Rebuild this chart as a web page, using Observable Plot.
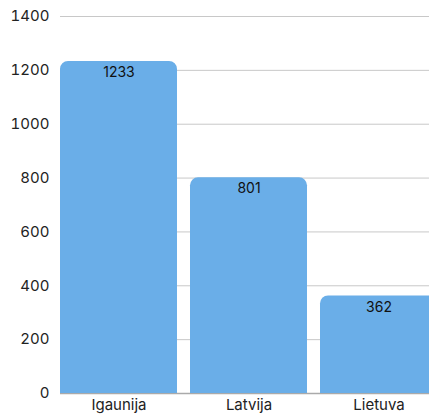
<!DOCTYPE html>
<html><head><meta charset="utf-8">
<script src="https://cdn.jsdelivr.net/npm/d3@7"></script>
<script src="https://cdn.jsdelivr.net/npm/@observablehq/plot@0.6"></script>
<style>
html,body{margin:0;padding:0;overflow:hidden;background:#fff;}
#chart svg{max-width:none !important;}
</style>
</head><body>
<div id="chart"></div>
<script>
const countries = ["Igaunija", "Latvija", "Lietuva"];
const values = [1233, 801, 362];
const yTicks = [0, 200, 400, 600, 800, 1000, 1200, 1400];

const data = countries.map((c, i) => ({country: c, value: values[i]}));

const chart = Plot.plot({
  width: 437,
  height: 416,
  marginLeft: 60,
  marginRight: 0,
  marginTop: 16,
  marginBottom: 23,
  style: {fontFamily: "Inter, 'Open Sans', sans-serif", fontSize: "15px", color: "#222", background: "#fff", maxWidth: "none"},
  x: {domain: countries, paddingInner: 0.1, paddingOuter: 0, label: null, tickSize: 0, tickPadding: 6},
  y: {domain: [0, 1400], ticks: yTicks, tickFormat: d => String(d), label: null, tickSize: 0, tickPadding: 11},
  marks: [
    Plot.gridY(yTicks, {stroke: "#c8c8c8", strokeOpacity: 1, strokeWidth: 1}),
    Plot.ruleY([0], {stroke: "#aaa", strokeWidth: 1.5}),
    Plot.barY(data, {x: "country", y: "value", fill: "#6aaee8", inset: 0, ry1: 8, rx1y1: 8, rx2y1: 8}),
    Plot.text(data, {x: "country", y: "value", text: d => String(d.value), dy: 11, fill: "#111", fontSize: 14})
  ]
});
document.getElementById("chart").appendChild(chart);
</script>
</body></html>
